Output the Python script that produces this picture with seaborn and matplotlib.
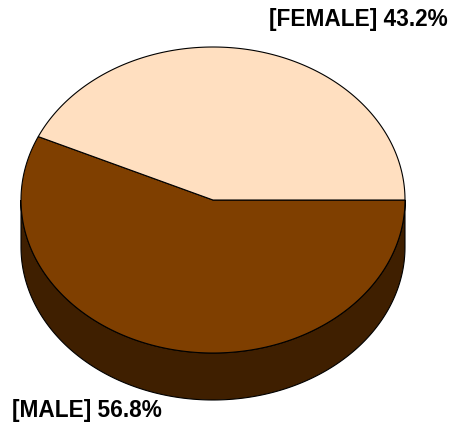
import numpy as np
import matplotlib
matplotlib.use("Agg")
import matplotlib.pyplot as plt
from matplotlib.patches import Polygon
import seaborn as sns

# Gender split
labels = ["MALE", "FEMALE"]
shares = [56.8, 43.2]
top_colors = ["#7f3f00", "#ffdfc0"]
side_colors = ["#3f1f00", "#7f6f60"]

sns.set_theme(style="white")
plt.rcParams["font.family"] = ["Liberation Sans", "DejaVu Sans"]

fig = plt.figure(figsize=(4.54, 4.28), dpi=100)
ax = fig.add_axes([0, 0, 1, 1])
ax.set_xlim(0, 454)
ax.set_ylim(428, 0)
ax.axis("off")

cx, cy = 213.0, 200.0
rx, ry = 192.0, 153.0
depth = 47.0


def ellipse_pts(a0, a1, n=200, dy=0.0):
    t = np.radians(np.linspace(a0, a1, n))
    return np.column_stack([cx + rx * np.cos(t), cy - ry * np.sin(t) + dy])


# slices run clockwise from 3 o'clock
bounds = []
start = 0.0
for s in shares:
    end = start - s / 100.0 * 360.0
    bounds.append((end, start))
    start = end

# side walls (only the front half, angles between 180 and 360 degrees)
for (a0, a1), col in zip(bounds, side_colors):
    for shift in (0.0, 360.0, -360.0):
        lo, hi = max(a0 + shift, 180.0), min(a1 + shift, 360.0)
        if hi > lo:
            upper = ellipse_pts(lo, hi)
            lower = ellipse_pts(hi, lo, dy=depth)
            ax.add_patch(Polygon(np.vstack([upper, lower]), closed=True,
                                 facecolor=col, edgecolor="black", lw=0.8,
                                 zorder=1))

# top faces
for (a0, a1), col in zip(bounds, top_colors):
    pts = np.vstack([[cx, cy], ellipse_pts(a0, a1), [cx, cy]])
    ax.add_patch(Polygon(pts, closed=True, facecolor=col,
                         edgecolor="black", lw=0.8, zorder=2))

ax.text(448, 19, f"[{labels[1]}] {shares[1]:.1f}%", ha="right", va="center",
        fontsize=16.3, fontweight="bold", color="black")
ax.text(12, 411, f"[{labels[0]}] {shares[0]:.1f}%", ha="left", va="center",
        fontsize=16.3, fontweight="bold", color="black")

fig.savefig("out.png", dpi=100)
